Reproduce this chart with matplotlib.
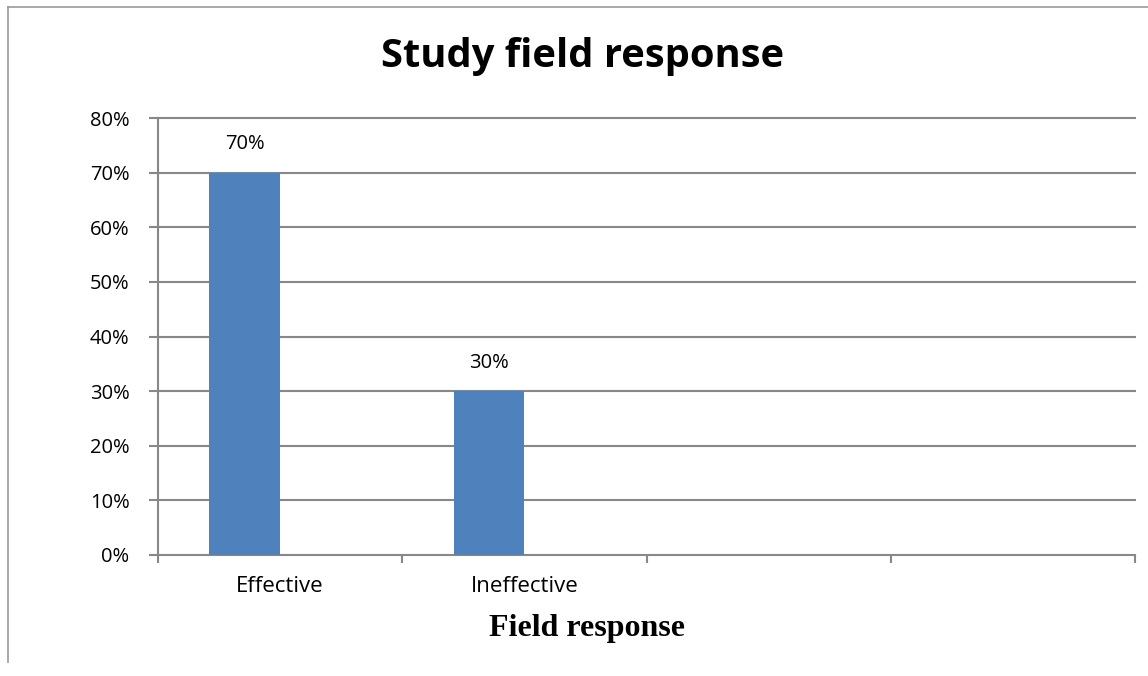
import matplotlib.pyplot as plt
from matplotlib.lines import Line2D
from matplotlib.ticker import FixedLocator, NullFormatter

categories = ['Effective', 'Ineffective', '', '']
shares = [70, 30]  # percent of respondents
y_ticks = [0, 10, 20, 30, 40, 50, 60, 70, 80]

W, H = 1148, 676
fig = plt.figure(figsize=(W / 100, H / 100), dpi=100)

# plot area in pixels: left 158, right 1135, top 118 (80%), bottom 555 (0%)
ax = fig.add_axes([158 / W, 1 - 555 / H, (1135 - 158) / W, (555 - 118) / H])

grid_col = '#888888'
bar_w = 0.29
for i, v in enumerate(shares):
    ax.bar(i - bar_w / 2, v, width=bar_w, color='#4F81BD', zorder=3)
    ax.text(i - bar_w / 2, v + 5.2, f'{v}%', ha='center', va='center',
            fontsize=14.5, family='Open Sans', zorder=4)

ax.set_xlim(-0.5, len(categories) - 0.5)
ax.set_ylim(0, 80)
ax.set_yticks(y_ticks)
ax.set_yticklabels([f'{t}%' for t in y_ticks], family='Open Sans', fontsize=14.5)
for t in y_ticks:
    ax.axhline(t, color=grid_col, lw=1.5, zorder=1, clip_on=False)

# category boundaries carry the tick marks, labels sit between them
ax.xaxis.set_major_locator(FixedLocator([i - 0.5 for i in range(len(categories) + 1)]))
ax.xaxis.set_major_formatter(NullFormatter())
ax.xaxis.set_minor_locator(FixedLocator(range(len(categories))))
ax.set_xticklabels(categories, minor=True, family='Open Sans', fontsize=16)
ax.tick_params(axis='x', which='major', length=6, width=1.5, color=grid_col)
ax.tick_params(axis='x', which='minor', length=0, pad=15)
ax.tick_params(axis='y', length=6.5, width=1.5, color=grid_col, pad=14)

for side in ['top', 'right', 'bottom']:
    ax.spines[side].set_visible(False)
ax.spines['left'].set_color(grid_col)
ax.spines['left'].set_linewidth(1.5)

fig.text(583 / W, 1 - 57 / H, 'Study field response', ha='center', va='center',
         fontsize=28.7, fontweight='bold', family='Open Sans')
fig.text(587 / W, 1 - 636 / H, 'Field response', ha='center', va='baseline',
         fontsize=23, fontweight='bold', family='Liberation Serif')

# outer chart frame, only top and left edges
fig.add_artist(Line2D([8 / W, 8 / W], [1 - 7 / H, 1 - 662 / H], color='#999999', lw=1.2))
fig.add_artist(Line2D([8 / W, 1.0], [1 - 7 / H, 1 - 7 / H], color='#999999', lw=1.2))

fig.savefig('out.png', dpi=100)
